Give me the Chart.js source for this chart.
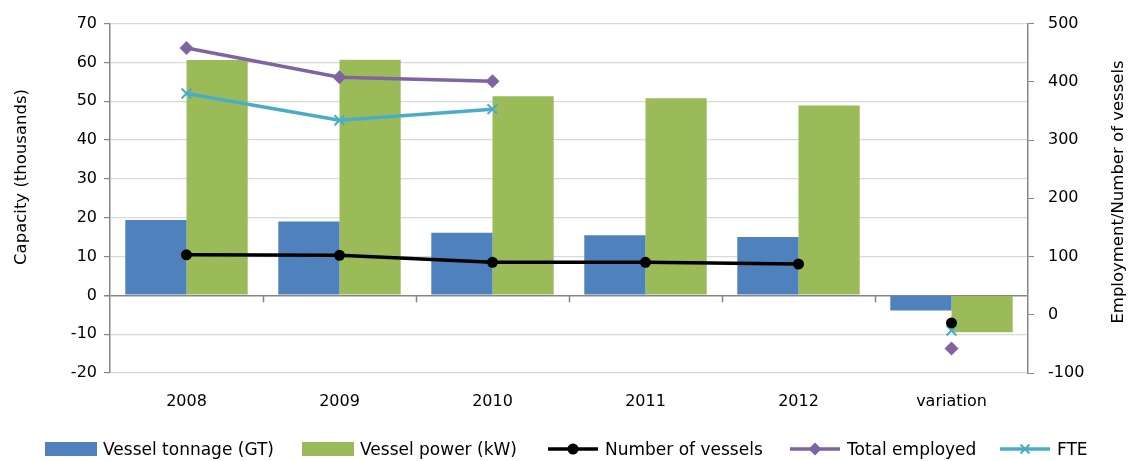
<!DOCTYPE html>
<html lang="en">
	<head>
		<meta charset="utf-8" />
		<title>Fleet capacity and employment</title>
		<script src="https://cdn.jsdelivr.net/npm/chart.js"></script>
		<style>
			body { margin: 0; background: #fff; font-family: "DejaVu Sans", sans-serif; }
			.wrap { position: relative; width: 1130px; height: 461px; }
			#legend { position: absolute; left: 0; top: 439px; width: 1130px; height: 22px; font-size: 17px; color: #000; }
			.item { position: absolute; top: 0; display: flex; align-items: center; white-space: nowrap; }
			.box { width: 52px; height: 14px; margin-right: 6px; }
			.item svg { margin-right: 7px; }
		</style>
	</head>
	<body>
		<div class="wrap">
			<canvas id="myChart" width="1130" height="461"></canvas>
			<div id="legend"></div>
		</div>
		<script>
			// values
			const categories = ['2008', '2009', '2010', '2011', '2012', 'variation'];
			const vesselTonnage = [19.4, 19.0, 16.1, 15.5, 15.0, -3.9];   // thousands GT
			const vesselPower = [60.6, 60.7, 51.3, 50.8, 48.9, -9.5];     // thousands kW
			const numberOfVessels = [103, 102, 90, 90, 87, -14];
			const totalEmployed = [458, 408, 401, null, null, -58];
			const fte = [380, 334, 353, null, null, -27];

			const leftTicks = { min: -20, max: 70, step: 10 };
			const rightTicks = { min: -100, max: 500, step: 100 };

			const BLUE = '#4F81BD', GREEN = '#9BBB59', PURPLE = '#8064A2', CYAN = '#4BACC6';
			const AXIS = '#868686', GRID = '#d9d9d9';
			const FONT = '"DejaVu Sans", sans-serif';

			Chart.defaults.font.family = FONT;
			Chart.defaults.font.size = 16;
			Chart.defaults.color = '#000';

			// the "variation" point is not joined to the 2012 point
			const noLastSegment = { borderColor: ctx => ctx.p1DataIndex === categories.length - 1 ? 'rgba(0,0,0,0)' : undefined };

			function rotatedText(ctx, text, x, y) {
				ctx.save();
				ctx.fillStyle = '#000';
				ctx.font = '16.5px ' + FONT;
				ctx.textAlign = 'center';
				ctx.textBaseline = 'middle';
				ctx.translate(x, y);
				ctx.rotate(-Math.PI / 2);
				ctx.fillText(text, 0, 0);
				ctx.restore();
			}

			// axis titles, zero-line ticks
			const extras = {
				id: 'extras',
				beforeDatasetsDraw(chart) {
					const ctx = chart.ctx;
					const x = chart.scales.x;
					const y0 = chart.scales.y.getPixelForValue(0);
					const w = x.getPixelForValue(1) - x.getPixelForValue(0);
					ctx.save();
					ctx.strokeStyle = AXIS;
					ctx.lineWidth = 1.5;
					for (let i = 1; i < categories.length; i++) {
						const px = Math.round(x.getPixelForValue(i) - w / 2) + 0.5;
						ctx.beginPath();
						ctx.moveTo(px, y0);
						ctx.lineTo(px, y0 + 7);
						ctx.stroke();
					}
					ctx.restore();
				},
				afterDraw(chart) {
					rotatedText(chart.ctx, 'Capacity (thousands)', 22, 177);
					rotatedText(chart.ctx, 'Employment/Number of vessels', 1119, 192);
				}
			};

			const chart = new Chart(document.getElementById('myChart'), {
				type: 'bar',
				data: {
					labels: categories,
					datasets: [
						{ type: 'line', label: 'Number of vessels', data: numberOfVessels, yAxisID: 'y1', order: 0,
							borderColor: '#000', backgroundColor: '#000', borderWidth: 3.5,
							pointStyle: 'circle', pointRadius: 5.5, pointBackgroundColor: '#000', pointBorderWidth: 0,
							segment: noLastSegment },
						{ type: 'line', label: 'Total employed', data: totalEmployed, yAxisID: 'y1', order: 0,
							borderColor: PURPLE, backgroundColor: PURPLE, borderWidth: 3.5,
							pointStyle: 'rectRot', pointRadius: 7, pointBackgroundColor: PURPLE, pointBorderWidth: 0,
							segment: noLastSegment },
						{ type: 'line', label: 'FTE', data: fte, yAxisID: 'y1', order: 0,
							borderColor: CYAN, backgroundColor: CYAN, borderWidth: 3.5,
							pointStyle: 'crossRot', pointRadius: 7, pointBorderColor: CYAN, pointBorderWidth: 2,
							segment: noLastSegment },
						{ label: 'Vessel tonnage (GT)', data: vesselTonnage, yAxisID: 'y', order: 1,
							backgroundColor: BLUE, categoryPercentage: 0.8, barPercentage: 1 },
						{ label: 'Vessel power (kW)', data: vesselPower, yAxisID: 'y', order: 1,
							backgroundColor: GREEN, categoryPercentage: 0.8, barPercentage: 1 }
					]
				},
				options: {
					responsive: false,
					animation: false,
					layout: { padding: { top: 23, left: 0, right: 0, bottom: 0 } },
					plugins: { legend: { display: false }, tooltip: { enabled: false } },
					scales: {
						x: {
							grid: { display: false },
							border: { display: false },
							ticks: { padding: 11 },
							afterFit: s => { s.height = 88; }
						},
						y: {
							position: 'left',
							min: leftTicks.min, max: leftTicks.max,
							ticks: { stepSize: leftTicks.step, padding: 7 },
							grid: {
								color: c => c.tick && c.tick.value === 0 ? AXIS : GRID,
								lineWidth: c => c.tick && c.tick.value === 0 ? 1.5 : 1.2,
								tickColor: AXIS, tickLength: 6
							},
							border: { color: AXIS, width: 1.5 },
							afterFit: s => { s.width = 110; }
						},
						y1: {
							position: 'right',
							min: rightTicks.min, max: rightTicks.max,
							ticks: { stepSize: rightTicks.step, padding: 14 },
							grid: { drawOnChartArea: false, tickColor: AXIS, tickLength: 6 },
							border: { color: AXIS, width: 1.5 },
							afterFit: s => { s.width = 102; }
						}
					}
				},
				plugins: [extras]
			});

			// legend in html, drawn like the original
			const legendItems = [
				{ label: 'Vessel tonnage (GT)', kind: 'box', color: BLUE, left: 45 },
				{ label: 'Vessel power (kW)', kind: 'box', color: GREEN, left: 302 },
				{ label: 'Number of vessels', kind: 'line', color: '#000', marker: 'circle', left: 548 },
				{ label: 'Total employed', kind: 'line', color: PURPLE, marker: 'diamond', left: 790 },
				{ label: 'FTE', kind: 'line', color: CYAN, marker: 'cross', left: 1000 }
			];
			const legend = document.getElementById('legend');
			legendItems.forEach(function (it) {
				const el = document.createElement('div');
				el.className = 'item';
				el.style.left = it.left + 'px';
				let sw;
				if (it.kind === 'box') {
					sw = '<div class="box" style="background:' + it.color + '"></div>';
				} else {
					let m = '';
					if (it.marker === 'circle') m = '<circle cx="25" cy="10" r="5.5" fill="' + it.color + '"/>';
					if (it.marker === 'diamond') m = '<polygon points="25,3.5 31.5,10 25,16.5 18.5,10" fill="' + it.color + '"/>';
					if (it.marker === 'cross') m = '<path d="M20.5 5.5 L29.5 14.5 M29.5 5.5 L20.5 14.5" stroke="' + it.color + '" stroke-width="2"/>';
					sw = '<svg width="50" height="20"><line x1="0" y1="10" x2="50" y2="10" stroke="' + it.color + '" stroke-width="3.5"/>' + m + '</svg>';
				}
				el.innerHTML = sw + '<span>' + it.label + '</span>';
				legend.appendChild(el);
			});
		</script>
	</body>
</html>
